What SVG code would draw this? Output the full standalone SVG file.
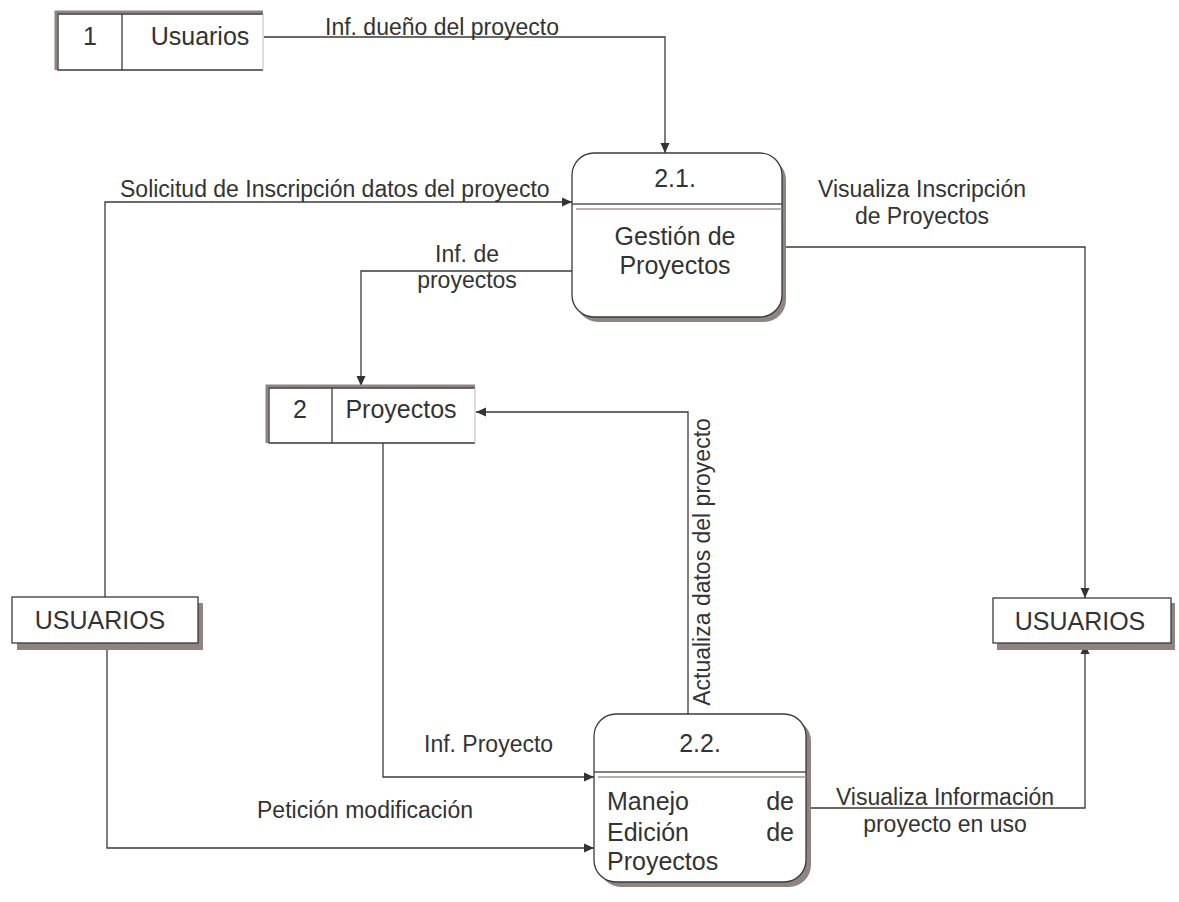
<svg xmlns="http://www.w3.org/2000/svg" width="1179" height="902" viewBox="0 0 1179 902">
<style>
  text { font-family: "Liberation Sans", Arial, sans-serif; fill: #333; }
  .n { font-size: 25px; }
  .l { font-size: 23px; }
  .c { text-anchor: middle; }
  .e { text-anchor: end; }
  .ln { fill: none; stroke: #3a3a3a; stroke-width: 1.3; }
  .sh { fill: #8f8480; }
  .box { fill: #fff; stroke: #3a3a3a; stroke-width: 1.3; }
  .div1 { stroke: #555; stroke-width: 1.5; }
  .div2 { stroke: #a09590; stroke-width: 1.5; }
  .stb { fill: none; stroke: #8f8480; stroke-width: 3; }
</style>
<defs>
  <marker id="ah" viewBox="0 0 10 10" refX="10" refY="5" markerWidth="10" markerHeight="10" markerUnits="userSpaceOnUse" orient="auto">
    <path d="M0,0.5 L10,5 L0,9.5 Z" fill="#333"/>
  </marker>
</defs>
<rect width="1179" height="902" fill="#fff"/>

<g id="connectors">
  <polyline class="ln" points="264,37 665,37 665,153" marker-end="url(#ah)"/>
  <polyline class="ln" points="105,597 105,202 572,202" marker-end="url(#ah)"/>
  <polyline class="ln" points="572,271 361,271 361,386" marker-end="url(#ah)"/>
  <polyline class="ln" points="782,247 1085,247 1085,598" marker-end="url(#ah)"/>
  <polyline class="ln" points="688,714 688,412 476,412" marker-end="url(#ah)"/>
  <polyline class="ln" points="383,443 383,777 594,777" marker-end="url(#ah)"/>
  <polyline class="ln" points="107,650 107,848 594,848" marker-end="url(#ah)"/>
  <polyline class="ln" points="806,808 1085,808 1085,644" marker-end="url(#ah)"/>
  <text class="l" x="325" y="35">Inf. dueño del proyecto</text>
  <text class="l" x="120" y="197">Solicitud de Inscripción datos del proyecto</text>
  <text class="l c" x="467" y="262">Inf. de</text>
  <text class="l c" x="467" y="288">proyectos</text>
  <text class="l c" x="922" y="197">Visualiza Inscripción</text>
  <text class="l c" x="922" y="224">de Proyectos</text>
  <text class="l c" transform="translate(710,562) rotate(-90)">Actualiza datos del proyecto</text>
  <text class="l" x="424" y="752">Inf. Proyecto</text>
  <text class="l" x="257" y="818">Petición modificación</text>
  <text class="l c" x="945" y="805">Visualiza Información</text>
  <text class="l c" x="945" y="832">proyecto en uso</text>
</g>

<g id="store1">
  <rect x="57" y="13" width="206" height="57" fill="#fff"/>
  <polyline class="stb" points="56,70 56,12 263,12"/>
  <polyline class="ln" points="263,14 58,14 58,70 263,70"/>
  <line x1="263" y1="14" x2="263" y2="70" stroke="#bbb" stroke-width="1"/>
  <line class="ln" x1="122" y1="14" x2="122" y2="70"/>
  <text class="n c" x="90" y="45">1</text>
  <text class="n c" x="200" y="45">Usuarios</text>
</g>

<g id="proc21">
  <rect class="sh" x="576" y="158" width="210" height="164" rx="22"/>
  <rect class="box" x="572" y="153" width="210" height="164" rx="22"/>
  <line class="div1" x1="572" y1="204" x2="782" y2="204"/>
  <line class="div2" x1="576" y1="209" x2="782" y2="209"/>
  <text class="n c" x="675" y="187">2.1.</text>
  <text class="n c" x="675" y="245">Gestión de</text>
  <text class="n c" x="675" y="274">Proyectos</text>
</g>

<g id="store2">
  <rect x="268" y="387" width="207" height="56" fill="#fff"/>
  <polyline class="stb" points="267,443 267,386 475,386"/>
  <polyline class="ln" points="475,388 269,388 269,443 475,443"/>
  <line x1="475" y1="388" x2="475" y2="443" stroke="#bbb" stroke-width="1"/>
  <line class="ln" x1="332" y1="388" x2="332" y2="443"/>
  <text class="n c" x="300" y="418">2</text>
  <text class="n c" x="401" y="418">Proyectos</text>
</g>

<g id="users_left">
  <rect class="sh" x="17" y="603" width="186" height="47"/>
  <rect class="box" x="12" y="597" width="186" height="46"/>
  <text class="n c" x="100" y="629">USUARIOS</text>
</g>

<g id="users_right">
  <rect class="sh" x="997" y="603" width="178" height="47"/>
  <rect class="box" x="993" y="598" width="178" height="45"/>
  <text class="n c" x="1080" y="630">USUARIOS</text>
</g>

<g id="proc22">
  <rect class="sh" x="599" y="719" width="212" height="168" rx="22"/>
  <rect class="box" x="594" y="714" width="212" height="168" rx="22"/>
  <line class="div1" x1="594" y1="772" x2="806" y2="772"/>
  <line class="div2" x1="598" y1="777" x2="806" y2="777"/>
  <text class="n c" x="700" y="752">2.2.</text>
  <text class="n" x="607" y="810">Manejo</text>
  <text class="n e" x="794" y="810">de</text>
  <text class="n" x="607" y="841">Edición</text>
  <text class="n e" x="794" y="841">de</text>
  <text class="n" x="607" y="870">Proyectos</text>
</g>
</svg>
